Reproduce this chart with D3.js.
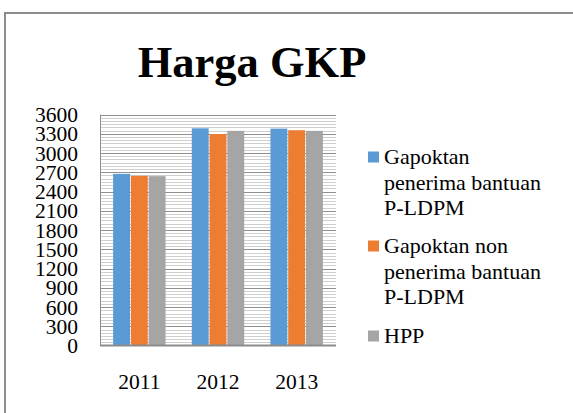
<!DOCTYPE html>
<html><head><meta charset="utf-8">
<script src="https://cdn.jsdelivr.net/npm/d3@7"></script>
<style>html,body{margin:0;padding:0;background:#fff;}svg{display:block;font-family:"Liberation Serif","Times New Roman",serif;}svg text{font-family:"Liberation Serif","Times New Roman",serif;}</style>
</head><body><svg id="c" width="573" height="413"></svg>
<script>
const years = ["2011", "2012", "2013"];
const seriesNames = [
  ["Gapoktan", "penerima bantuan", "P-LDPM"],
  ["Gapoktan non", "penerima bantuan", "P-LDPM"],
  ["HPP"]
];
const seriesKeys = ["s1", "s2", "s3"];
const penerima = [2675, 3385, 3380];
const nonPenerima = [2645, 3295, 3355];
const hpp = [2640, 3345, 3345];
const yTicks = [0, 300, 600, 900, 1200, 1500, 1800, 2100, 2400, 2700, 3000, 3300, 3600];
const colors = ["#5b9bd5", "#ed7d31", "#a5a5a5"];
const title = "Harga GKP";

const seriesVals = [penerima, nonPenerima, hpp];
const data = years.map((y, i) => ({year: y, vals: seriesKeys.map((k, j) => ({key: k, v: seriesVals[j][i], c: colors[j]}))}));

const svg = d3.select("#c");
const font = '"Liberation Serif","Times New Roman",serif';
svg.append("rect").attr("width", 573).attr("height", 413).attr("fill", "#fff");
svg.append("rect").attr("x", 5).attr("y", 13).attr("width", 700).attr("height", 600)
  .attr("fill", "none").attr("stroke", "#8c8c8c").attr("stroke-width", 2);

const L = 100, R = 336, T = 114.5, B = 345.6;
const y = d3.scaleLinear().domain([0, 3600]).range([B, T]);
const x = d3.scaleBand().domain(years).range([L, R]).paddingInner(1/3).paddingOuter(1/6);
const xs = d3.scaleBand().domain(seriesKeys).range([0, x.bandwidth()]).paddingInner(0.05);

// minor stripes
const minor = d3.range(0, 3601, 50).filter(v => v % 300 !== 0);
svg.append("g").selectAll("line").data(minor).join("line")
  .attr("x1", L).attr("x2", R).attr("y1", d => Math.round(y(d)) + 0.5).attr("y2", d => Math.round(y(d)) + 0.5)
  .attr("stroke", "#cfcfcf").attr("stroke-width", 1);
// major gridlines
svg.append("g").selectAll("line").data(yTicks.filter(v => v > 0)).join("line")
  .attr("x1", L).attr("x2", R).attr("y1", d => Math.round(y(d)) + 0.5).attr("y2", d => Math.round(y(d)) + 0.5)
  .attr("stroke", "#8f8f8f").attr("stroke-width", 1);
// left axis line
svg.append("line").attr("x1", L + 0.5).attr("x2", L + 0.5).attr("y1", T).attr("y2", B)
  .attr("stroke", "#8f8f8f").attr("stroke-width", 1);

// bars
const g = svg.append("g").selectAll("g").data(data).join("g")
  .attr("transform", d => `translate(${x(d.year)},0)`);
g.selectAll("rect").data(d => d.vals).join("rect")
  .attr("x", d => xs(d.key)).attr("width", xs.bandwidth())
  .attr("y", d => y(d.v)).attr("height", d => y(0) - y(d.v))
  .attr("fill", d => d.c);

// baseline
svg.append("line").attr("x1", L).attr("x2", R).attr("y1", B).attr("y2", B)
  .attr("stroke", "#8c8c8c").attr("stroke-width", 2);

// y axis labels
const yAxis = d3.axisLeft(y).tickValues(yTicks).tickFormat(d3.format("d")).tickSize(0).tickPadding(0);
const ya = svg.append("g").attr("transform", `translate(78,0)`).call(yAxis);
ya.attr("font-family", null).attr("font-size", null);
ya.select(".domain").remove();
ya.selectAll("text").style("font-family", font).style("font-size", "21.5px").attr("fill", "#000")
  .attr("dy", "0.33em");

// x axis labels
const xAxis = d3.axisBottom(x).tickSize(0).tickPadding(0);
const xa = svg.append("g").attr("transform", `translate(0,389)`).call(xAxis);
xa.attr("font-family", null).attr("font-size", null);
xa.select(".domain").remove();
xa.selectAll("text").style("font-family", font).style("font-size", "21.5px").attr("fill", "#000").attr("dy", 0);

// title
svg.append("text").attr("x", 252).attr("y", 77).attr("text-anchor", "middle")
  .style("font-family", font).style("font-weight", "bold").style("font-size", "44.5px").text(title);

// legend
const legTop = [164, 253, 343];
seriesNames.forEach((lines, i) => {
  svg.append("rect").attr("x", 368).attr("y", legTop[i] - 12.5).attr("width", 11).attr("height", 11).attr("fill", colors[i]);
  lines.forEach((t, k) => {
    svg.append("text").attr("x", 384).attr("y", legTop[i] + k * 25.5)
      .style("font-family", font).style("font-size", "22px").attr("fill", "#000").text(t);
  });
});
</script></body></html>
